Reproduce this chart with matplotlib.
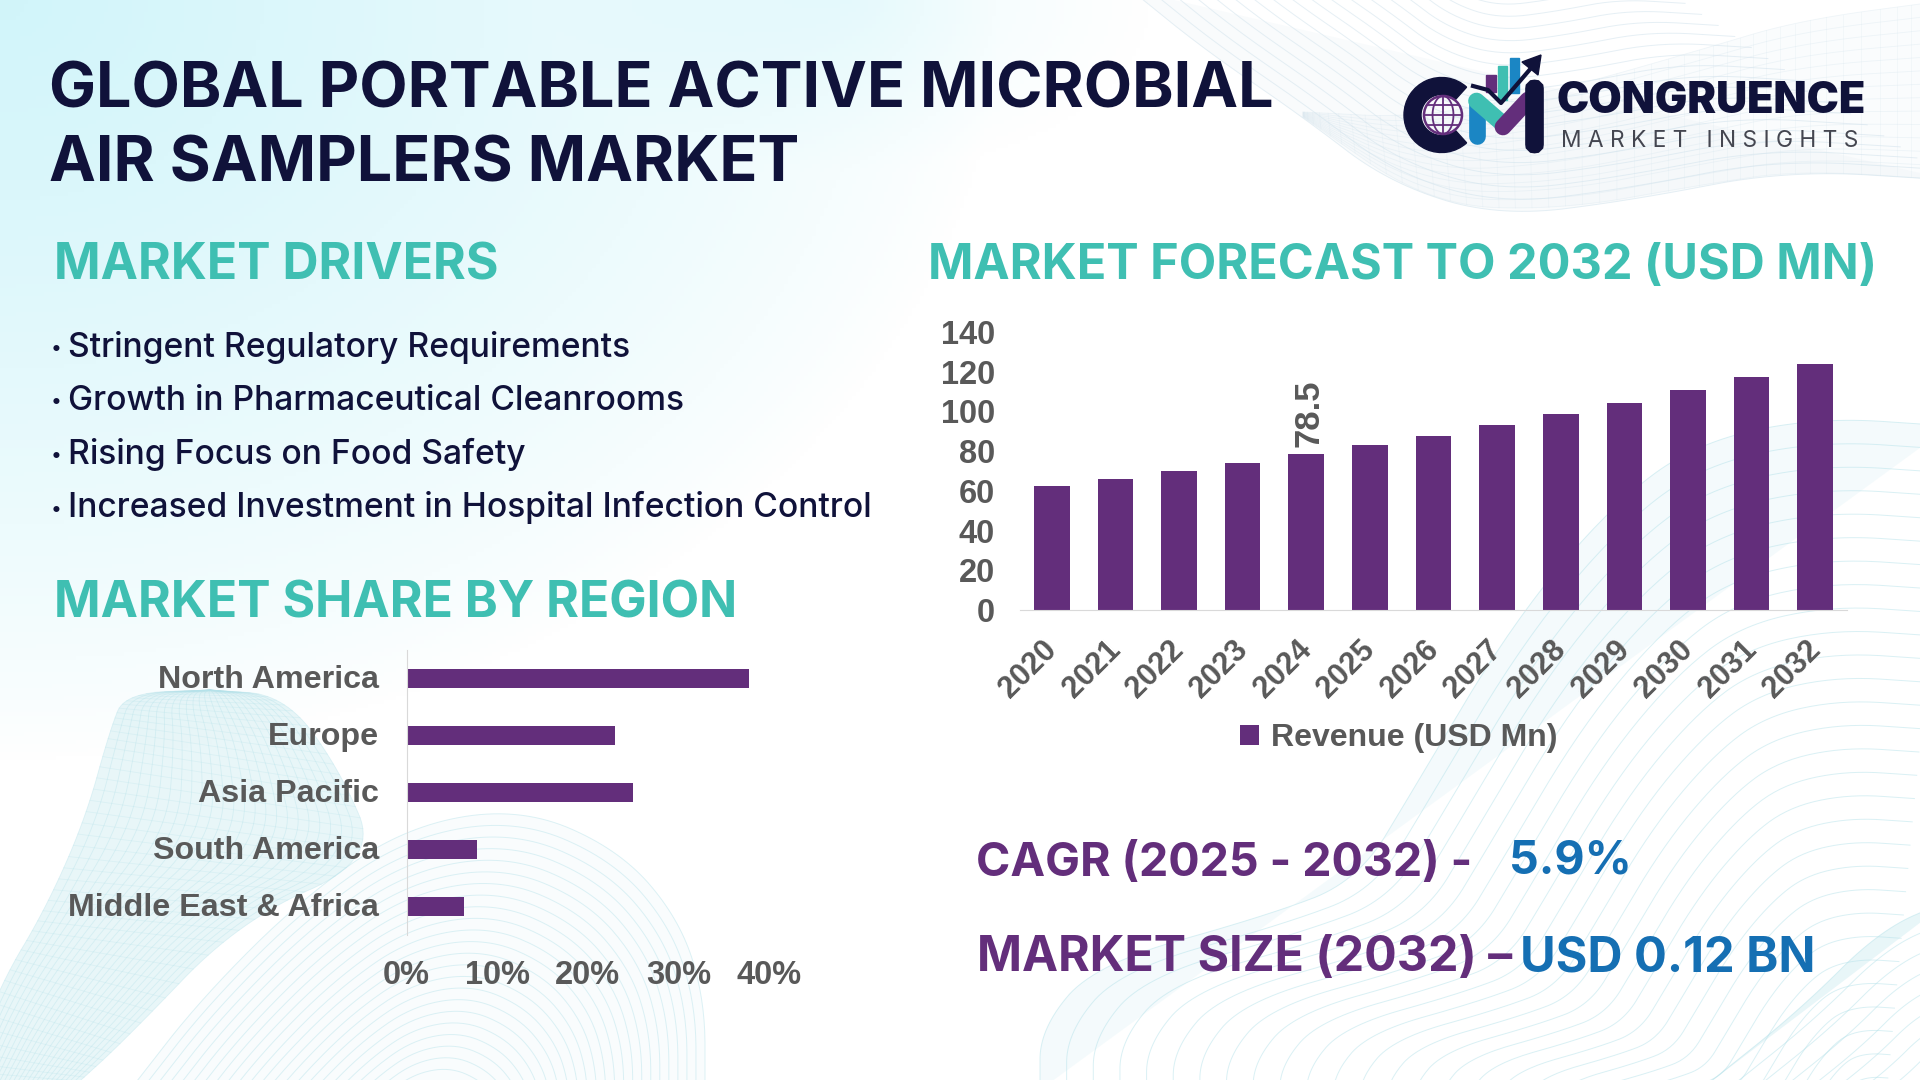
"""Portable air samplers market infographic."""

import matplotlib

matplotlib.use("Agg")

import matplotlib.pyplot as plt
import numpy as np
from matplotlib.patches import Circle, FancyBboxPatch, Polygon, Wedge
from matplotlib.transforms import ScaledTranslation

W, H = 1920, 1080
NAVY = "#10123a"
TEAL = "#3fbfb2"
PURPLE = "#632e7b"
BLUE = "#156fb3"
LOGO_BLUE = "#1b86c4"
GREY = "#595959"
WAVE = "#b5e2ea"

years = [2020, 2021, 2022, 2023, 2024, 2025, 2026, 2027, 2028, 2029, 2030, 2031, 2032]
revenue = [62.4, 66.0, 70.0, 74.0, 78.5, 83.1, 87.6, 93.2, 98.7, 104.2, 110.8, 117.3, 123.9]
revenue_ticks = [0, 20, 40, 60, 80, 100, 120, 140]

regions = ["North America", "Europe", "Asia Pacific", "South America", "Middle East & Africa"]
shares = [37.8, 23.0, 25.0, 7.8, 6.3]
share_ticks = [0, 10, 20, 30, 40]

drivers = [
    "Stringent Regulatory Requirements",
    "Growth in Pharmaceutical Cleanrooms",
    "Rising Focus on Food Safety",
    "Increased Investment in Hospital Infection Control",
]

plt.rcParams["font.family"] = ["Liberation Sans", "DejaVu Sans"]
HEAD = ["Inter", "DejaVu Sans"]


def px_axes(fig, left, top, right, bottom):
    # axes placed with pixel coordinates measured from the top-left corner
    ax = fig.add_axes([left / W, 1 - bottom / H, (right - left) / W, (bottom - top) / H])
    ax.patch.set_visible(False)
    return ax


def smooth(points, rounds=4):
    # Chaikin corner cutting, keeps the two end points
    pts = np.asarray(points, dtype=float)
    for _ in range(rounds):
        q = 0.75 * pts[:-1] + 0.25 * pts[1:]
        r = 0.25 * pts[:-1] + 0.75 * pts[1:]
        mid = np.empty((len(q) * 2, 2))
        mid[0::2] = q
        mid[1::2] = r
        pts = np.vstack([pts[0], mid, pts[-1]])
    return pts


def arches(ax, outline, centre, n, color=WAVE, alpha=0.45, fill=0.18, lw=0.7):
    # nested copies of one outline, shrinking towards a centre point
    pts = smooth(outline)
    centre = np.asarray(centre, dtype=float)
    if fill:
        ax.fill(pts[:, 0], pts[:, 1], color=color, alpha=fill, lw=0, zorder=1)
    for k in np.linspace(0.08, 1, n):
        cur = centre + k * (pts - centre)
        ax.plot(cur[:, 0], cur[:, 1], color=color, lw=lw, alpha=alpha, zorder=1)


def ribbon(ax, edge_a, edge_b, n, color=WAVE, alpha=0.45, fill=0.25, lw=0.6):
    # curves running between two edges, crossed by rungs so it reads as a mesh
    a, b = smooth(edge_a), smooth(edge_b)
    ax.fill(np.r_[a[:, 0], b[::-1, 0]], np.r_[a[:, 1], b[::-1, 1]], color=color, alpha=fill, lw=0, zorder=1)
    for k in np.linspace(0, 1, n):
        cur = a + k * (b - a)
        ax.plot(cur[:, 0], cur[:, 1], color=color, lw=lw, alpha=alpha, zorder=1)
    for i in range(0, len(a), 2):
        ax.plot([a[i, 0], b[i, 0]], [a[i, 1], b[i, 1]], color=color, lw=lw, alpha=alpha * 0.7, zorder=1)


def draw_background(ax):
    yy, xx = np.mgrid[0:H:270j, 0:W:480j]
    # pale cyan wash from the top-left corner, fading by the middle of the page
    glow = np.clip(1 - np.hypot(xx / 1000, yy / 760), 0, 1) ** 0.8
    glow2 = np.clip(1 - np.hypot((xx - 850) / 300, yy / 170), 0, 1) * 0.35
    amount = np.clip(glow + glow2, 0, 1)[..., None]
    img = 1 - amount * (1 - np.array([0.82, 0.96, 0.98]))
    ax.imshow(img, extent=[0, W, H, 0], aspect="auto", zorder=0)

    # top right folds
    top_edge = [(1131, -10), (1205, 50), (1303, 117), (1389, 183), (1499, 217),
                (1634, 200), (1787, 170), (1950, 180)]
    arches(ax, top_edge, (1500, -120), 26, color="#d5e5ee", alpha=0.6, fill=0.14)
    ribbon(ax, [(1303, 112), (1420, 118), (1560, 90), (1700, 50), (1800, 20), (1950, 0)],
           [(1303, 117), (1430, 205), (1560, 210), (1700, 185), (1800, 170), (1950, 180)],
           14, color="#d5e5ee", alpha=0.35, fill=0.1)

    # lower left ribbon and the hill beside it
    arches(ax, [(130, 1090), (200, 1000), (300, 900), (404, 827), (520, 807), (620, 850),
                (680, 920), (705, 1000), (705, 1090)],
           (420, 1180), 30, alpha=0.45, fill=0.08)
    ribbon(ax, [(210, 690), (125, 693), (110, 730), (85, 820), (45, 910), (0, 985), (-40, 1090)],
           [(210, 690), (285, 695), (340, 770), (378, 860), (240, 920), (125, 1040), (70, 1090)],
           26, alpha=0.4, fill=0.3)

    # lower right wave
    arches(ax, [(1040, 1090), (1040, 1029), (1095, 964), (1266, 916), (1358, 881), (1413, 790),
                (1511, 625), (1609, 508), (1695, 443), (1817, 417), (1950, 426)],
           (1880, 1160), 30, alpha=0.5, fill=0.14)
    arches(ax, [(1700, 1090), (1800, 1010), (1880, 930), (1950, 900)], (1950, 1100), 10,
           alpha=0.5, fill=0.3)


def draw_logo(ax):
    ax.add_patch(Wedge((1441.5, 115), 37.5, 48, 312, width=17, color=NAVY, zorder=3))
    ax.add_patch(Circle((1443, 115), 19, fc="none", ec=PURPLE, lw=1.8, zorder=3))
    t = np.linspace(-1, 1, 40)
    for c in (-0.55, 0.0, 0.55):
        ax.plot(1443 + 19 * c * np.sqrt(1 - t**2), 115 + 19 * t, color=PURPLE, lw=1.3, zorder=3)
        half = 19 * np.sqrt(1 - c**2)
        ax.plot([1443 - half, 1443 + half], [115 + 19 * c, 115 + 19 * c], color=PURPLE, lw=1.3, zorder=3)

    # M strokes
    ax.plot([1476.5, 1476.5], [103, 136], color=LOGO_BLUE, lw=12, solid_capstyle="round", zorder=4)
    ax.plot([1476.5, 1503], [101, 124], color=TEAL, lw=12, solid_capstyle="round", zorder=5)
    ax.plot([1503, 1528], [127, 100], color=PURPLE, lw=12, solid_capstyle="round", zorder=5)
    ax.add_patch(FancyBboxPatch((1533.5, 88), 2, 57, boxstyle="round,pad=0,rounding_size=1",
                                ec=NAVY, fc=NAVY, lw=12, zorder=6))
    for x0, x1, top, bot, col in [(1486, 1496, 75, 92, PURPLE), (1498, 1507, 66, 100, TEAL),
                                  (1510, 1519, 58, 93, LOGO_BLUE)]:
        ax.add_patch(Polygon([[x0, top], [x1, top], [x1, bot], [x0, bot]], color=col, zorder=3))
    ax.plot([1473, 1488, 1501, 1532], [86, 90, 103, 67], color=NAVY, lw=3, zorder=7)
    ax.add_patch(Polygon([[1541, 55], [1522, 62], [1538, 75]], color=NAVY, zorder=7))

    ax.text(1557, 113, "CONGRUENCE", color=NAVY, fontsize=31, fontweight="black",
            family=HEAD, va="baseline", ha="left", zorder=5)
    ax.text(1561, 147, "M A R K E T   I N S I G H T S", color="#444650", fontsize=16.4,
            family=HEAD, va="baseline", ha="left", zorder=5)


fig = plt.figure(figsize=(19.2, 10.8), dpi=100)
page = fig.add_axes([0, 0, 1, 1])
page.axis("off")
draw_background(page)
draw_logo(page)
page.set_xlim(0, W)
page.set_ylim(H, 0)

# Headings
page.text(49, 108, "GLOBAL PORTABLE ACTIVE MICROBIAL", color=NAVY, fontsize=45.2, fontweight="bold", family=HEAD)
page.text(49, 181.5, "AIR SAMPLERS MARKET", color=NAVY, fontsize=45.2, fontweight="bold", family=HEAD)
page.text(54, 279.5, "MARKET DRIVERS", color=TEAL, fontsize=36, fontweight="bold", family=HEAD)
page.text(928, 279.5, "MARKET FORECAST TO 2032 (USD MN)", color=TEAL, fontsize=35, fontweight="bold", family=HEAD)
page.text(54, 618, "MARKET SHARE BY REGION", color=TEAL, fontsize=36, fontweight="bold", family=HEAD)

for y, driver in zip([357, 410, 464, 517.5], drivers):
    page.text(56, y - 3, "•", color=NAVY, fontsize=14, family=HEAD, ha="center")
    page.text(68.5, y, driver, color=NAVY, fontsize=24.2, fontweight="medium", family=HEAD)

# Callouts
page.text(976, 876, "CAGR (2025 - 2032) -", color=PURPLE, fontsize=33.5, fontweight="bold", family=HEAD)
page.text(1509, 873.5, "5.9%", color=BLUE, fontsize=33.5, fontweight="bold", family=HEAD)
page.text(977, 971.5, "MARKET SIZE (2032) –", color=PURPLE, fontsize=34.8, fontweight="bold", family=HEAD)
page.text(1520, 971.5, "USD 0.12 BN", color=BLUE, fontsize=35, fontweight="bold", family=HEAD)

# Forecast bars
ax_rev = px_axes(fig, 1020, 332, 1847, 610)
rev_x = np.arange(len(years))
rev_bars = ax_rev.bar(rev_x, revenue, width=0.56, color=PURPLE, label="Revenue (USD Mn)")
ax_rev.set_xlim(-0.5, len(years) - 0.5)
ax_rev.set_ylim(0, 140)
ax_rev.set_yticks(revenue_ticks)
ax_rev.set_xticks(rev_x, [str(y) for y in years], rotation=45, ha="right", rotation_mode="anchor")
ax_rev.tick_params(axis="both", length=0, labelsize=22, labelcolor=GREY)
ax_rev.tick_params(axis="y", labelsize=23.5, pad=18)
ax_rev.tick_params(axis="x", pad=18)
for label in ax_rev.get_xticklabels() + ax_rev.get_yticklabels():
    label.set_fontweight("bold")
shift_left = ScaledTranslation(-10 / 100, 0, fig.dpi_scale_trans)
for label in ax_rev.get_xticklabels():
    label.set_transform(label.get_transform() + shift_left)
for side in ("top", "right", "left"):
    ax_rev.spines[side].set_visible(False)
ax_rev.spines["bottom"].set_color("#d9d9d9")
ax_rev.text(rev_x[4] + 0.05, revenue[4] + 3.5, f"{revenue[4]}", rotation=90, ha="center", va="bottom",
            fontsize=25, fontweight="bold", color=GREY)
fig.legend(handles=[rev_bars], loc="center", bbox_to_anchor=(1399 / W, 1 - 738 / H), frameon=False,
           prop={"size": 23, "weight": "bold"}, labelcolor=GREY, handlelength=0.58, handleheight=0.58,
           handletextpad=0.4)

# Region bars
ax_reg = px_axes(fig, 406.6, 650, 769, 935)
reg_y = np.arange(len(regions))
ax_reg.barh(reg_y, shares, height=0.35, color=PURPLE)
ax_reg.set_xlim(0, 40)
ax_reg.set_ylim(len(regions) - 0.5, -0.5)
ax_reg.set_yticks(reg_y, regions)
ax_reg.set_xticks(share_ticks, [f"{v}%" for v in share_ticks])
ax_reg.tick_params(axis="both", length=0, labelcolor=GREY)
ax_reg.tick_params(axis="y", labelsize=23.2, pad=20)
ax_reg.tick_params(axis="x", labelsize=23.5, pad=18)
for label in ax_reg.get_xticklabels() + ax_reg.get_yticklabels():
    label.set_fontweight("bold")
shift_up = ScaledTranslation(0, 2 / 100, fig.dpi_scale_trans)
for label in ax_reg.get_yticklabels():
    label.set_transform(label.get_transform() + shift_up)
for side in ("top", "right", "bottom"):
    ax_reg.spines[side].set_visible(False)
ax_reg.spines["left"].set_color("#d9d9d9")

fig.savefig("out.png", dpi=100)
